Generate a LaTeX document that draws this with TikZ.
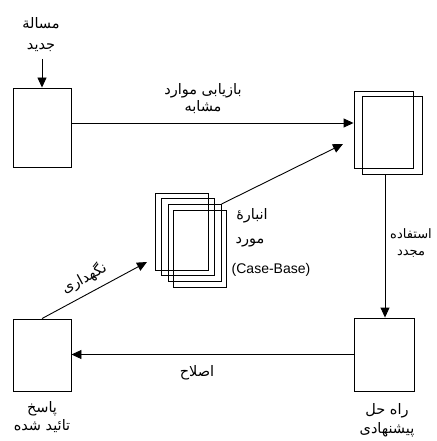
\documentclass[tikz,border=0pt]{standalone}
\usepackage{fontspec}
\setmainfont{Liberation Sans}
\newfontfamily\arabicfont[Script=Arabic]{DejaVu Sans}
\TeXXeTstate=1
\usetikzlibrary{arrows.meta}
\begin{document}
\begin{tikzpicture}[x=1pt,y=-1pt,
  box/.style={draw,line width=0.9pt,inner sep=0pt,minimum width=#1},
  arr/.style={line width=0.9pt,-{Triangle[length=10pt,width=9pt]}},
  lbl/.style={font=\arabicfont\fontsize{14.5}{17}\selectfont,align=center,inner sep=0pt}]
\useasboundingbox (0,0) rectangle (436,441);
% boxes
\node[box=58,minimum height=79] (lb) at (42,127.5) {};
\node[box=59,minimum height=77] (r1) at (383.5,129.5) {};
\node[box=60,minimum height=78] (r2) at (392,135) {};
\node[box=60,minimum height=73] (br) at (384,354.5) {};
\node[box=58,minimum height=72] (bl) at (42,355) {};
\node[box=53,minimum height=77] (c1) at (181.5,231.5) {};
\node[box=53,minimum height=77] (c2) at (187.5,237) {};
\node[box=53,minimum height=77] (c3) at (194.5,243) {};
\node[box=53,minimum height=77] (c4) at (199.5,249) {};
% labels
\node[lbl,font=\arabicfont\fontsize{14.5}{21}\selectfont] (tnew) at (41,34.5) {\beginR مسالة\endR\\\beginR جدید\endR};
\node[lbl] (tret) at (203,98.5) {\beginR بازیابی موارد\endR\\\beginR مشابه\endR};
\node[lbl,font=\arabicfont\fontsize{13}{17}\selectfont] (treu) at (411,243.5) {\beginR استفاده\endR\\\beginR مجدد\endR};
\node[lbl] (trev) at (197,373) {\beginR اصلاح\endR};
\node[lbl,font=\arabicfont\fontsize{14.5}{18}\selectfont] (tans) at (42,417) {\beginR پاسخ\endR\\\beginR تائید شده\endR};
\node[lbl,font=\arabicfont\fontsize{14.5}{19}\selectfont] (tsol) at (387,420.5) {\beginR راه حل\endR\\\beginR پیشنهادی\endR};
\node[lbl] (tcb1) at (252,216) {\beginR انبارهٔ\endR};
\node[lbl] (tcb2) at (250,242) {\beginR مورد\endR};
\node[inner sep=0pt,font=\fontsize{14}{16}\selectfont] (tcb3) at (271,270) {(Case-Base)};
% connectors
\coordinate (newin) at (42,59);
\draw[arr] (newin) -- (newin |- lb.north);
\draw[arr] ([yshift=4.5pt]lb.east) -- ([yshift=4.5pt]lb.east -| r1.west);
\coordinate (cbout) at (343,144);
\draw[arr] (c3.north east) -- (cbout);
\draw[arr] ([xshift=-7pt]r2.south) -- ([xshift=-7pt]r2.south |- br.north);
\draw[arr] (br.west) -- (br.west -| bl.east);
\coordinate (cbin) at (147,262);
\draw[arr] (bl.north) -- (cbin);
\node[lbl,rotate=28.5] (tkeep) at (84,278) {\beginR نگهداری\endR};
\end{tikzpicture}
\end{document}
